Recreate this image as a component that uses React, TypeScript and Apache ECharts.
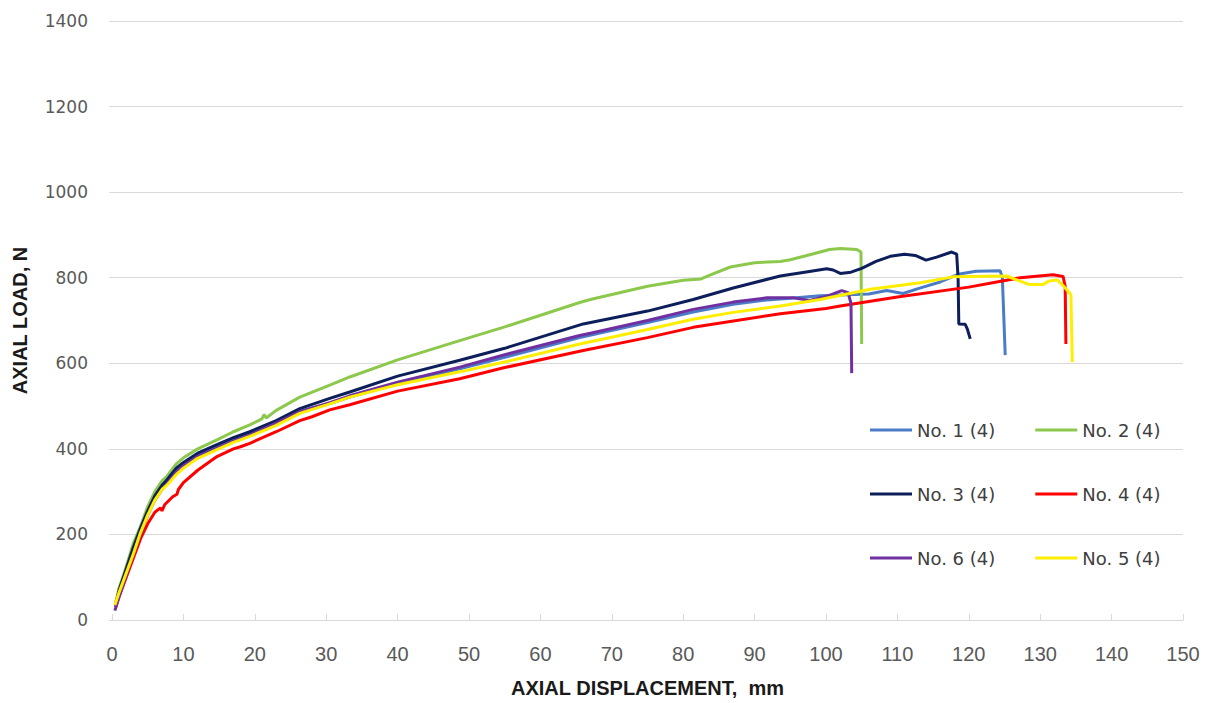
import React, { useEffect, useRef } from "react";
import * as echarts from "echarts";

type Pt = [number, number];

const xTicks = { min: 0, max: 150, interval: 10 };
const yTicks = { min: 0, max: 1400, interval: 200 };

const seriesNames = ["No. 1 (4)", "No. 2 (4)", "No. 3 (4)", "No. 4 (4)", "No. 6 (4)", "No. 5 (4)"];
const seriesColors = ["#4a7cc8", "#8cc84b", "#0c1f5a", "#ff0000", "#7030a0", "#ffee00"];

const no1: Pt[] = [
  [0.5, 30], [1, 65], [2, 115], [3, 165], [4, 210], [5, 250], [6, 285], [7, 310], [7.7, 322], [9, 350],
  [10, 363], [12, 385], [14.7, 405], [17, 421], [19.3, 435], [23, 462], [26.3, 488], [30.5, 506],
  [33.3, 521], [40, 552], [48.7, 587], [55, 614], [65.5, 660], [75, 695], [81.4, 720], [87, 738],
  [91.7, 748], [95, 752], [99.2, 758], [103, 760], [106, 762], [108.5, 770], [110.8, 763], [113, 775],
  [116, 790], [118.5, 808], [121, 815], [124.4, 816], [124.7, 800], [125.1, 619],
];
const no2: Pt[] = [
  [0.5, 40], [1, 75], [2, 125], [3, 180], [3.9, 215], [5, 265], [6, 300], [7, 325], [7.7, 336], [9, 365],
  [10, 379], [12, 400], [14.7, 421], [17, 440], [19.3, 456], [21, 470], [21.3, 480], [21.6, 472],
  [23, 490], [26.3, 521], [30.5, 549], [33.3, 568], [40, 608], [48.7, 653], [55, 685], [65.5, 742],
  [67, 749], [75, 780], [80, 794], [82.5, 797], [84, 808], [86.6, 825], [90, 835], [93.6, 838],
  [95, 842], [98, 855], [100.5, 866], [102, 868], [104.3, 866], [104.9, 860], [105.0, 645],
];
const no3: Pt[] = [
  [0.5, 35], [1, 70], [2, 120], [3, 170], [4, 215], [5, 255], [6, 290], [7, 315], [7.7, 328], [9, 355],
  [10, 368], [12, 390], [14.7, 410], [17, 426], [19.3, 440], [23, 466], [26.3, 494], [30.5, 518],
  [33.3, 533], [40, 570], [48.7, 607], [55, 635], [66, 692], [75, 722], [81.4, 749], [87, 776],
  [93.6, 804], [97, 813], [100.1, 821], [101, 818], [102, 810], [103.5, 813], [105, 822], [107, 838],
  [109, 850], [111, 855], [112.5, 852], [114, 841], [115.5, 848], [117.6, 860], [118.3, 855],
  [118.5, 800], [118.6, 692], [119.5, 691], [119.8, 680], [120.2, 657],
];
const no4: Pt[] = [
  [0.5, 30], [1, 55], [2, 100], [3, 145], [4, 190], [5, 225], [6, 252], [6.8, 262], [7.0, 255],
  [7.4, 270], [8.5, 288], [9.1, 294], [9.3, 305], [10, 321], [12, 350], [14.7, 382], [17, 400],
  [18, 405], [19.3, 413], [23, 440], [26.3, 466], [28, 475], [30.5, 491], [33.3, 503], [40, 535],
  [48.7, 564], [55, 590], [66, 630], [75, 660], [81.4, 684], [93.6, 716], [100, 728], [102, 734],
  [110, 755], [120, 778], [127.2, 800], [131.8, 807], [133.2, 803], [133.5, 780], [133.6, 645],
];
const no6: Pt[] = [
  [0.4, 22], [1, 55], [2, 105], [3, 155], [4, 200], [5, 245], [6, 280], [7, 305], [7.7, 318], [9, 345],
  [10, 360], [12, 382], [14.7, 402], [17, 418], [19.3, 432], [23, 460], [26.3, 487], [30.5, 508],
  [33.3, 524], [40, 556], [48.7, 591], [55, 620], [65.5, 665], [67, 670], [75, 700], [81.4, 726],
  [87, 743], [91.7, 753], [95.4, 753], [97.7, 747], [100, 756], [102.2, 770], [103.1, 765],
  [103.5, 740], [103.6, 577],
];
const no5: Pt[] = [
  [0.4, 35], [1, 65], [2, 110], [3, 155], [3.9, 200], [5, 245], [6, 280], [7, 305], [7.7, 315], [9, 340],
  [10, 355], [12, 378], [14.7, 398], [17, 415], [19.3, 429], [23, 455], [26.3, 483], [30.5, 505],
  [33.3, 521], [40, 550], [48.7, 580], [55, 603], [65.5, 645], [70, 661], [75, 679], [81.4, 703],
  [87, 719], [93.6, 734], [99.2, 749], [106.2, 773], [113.2, 788], [117.8, 802], [125.3, 804],
  [127.2, 792], [128.5, 784], [130.4, 784], [131.2, 792], [132.4, 795], [133.3, 780], [134.3, 760],
  [134.5, 603],
];

const seriesData: Pt[][] = [no1, no2, no3, no4, no6, no5];

export default function App() {
  const ref = useRef<HTMLDivElement>(null);
  useEffect(() => {
    if (!ref.current) return;
    const chart = echarts.init(ref.current, undefined, { renderer: "svg" });
    const legendRow = (names: string[], top: number) => ({
      show: true,
      left: 865,
      top,
      orient: "horizontal",
      itemGap: 40,
      itemWidth: 42,
      itemHeight: 3,
      icon: "rect",
      data: names,
      textStyle: { fontFamily: "DejaVu Sans", fontSize: 18, color: "#404040" },
    });
    chart.setOption({
      animation: false,
      backgroundColor: "#ffffff",
      grid: { left: 112, right: 27, top: 21, bottom: 78, containLabel: false },
      legend: [
        legendRow([seriesNames[0], seriesNames[1]], 416),
        legendRow([seriesNames[2], seriesNames[3]], 480),
        legendRow([seriesNames[4], seriesNames[5]], 544),
      ],
      xAxis: {
        type: "value",
        min: xTicks.min,
        max: xTicks.max,
        interval: xTicks.interval,
        name: "AXIAL DISPLACEMENT,  mm",
        nameLocation: "middle",
        nameGap: 58,
        nameTextStyle: { fontFamily: "Liberation Sans", fontWeight: "bold", fontSize: 20, color: "#1a1a1a" },
        axisLine: { show: true, lineStyle: { color: "#d9d9d9", width: 1 } },
        axisTick: { show: true, inside: true, length: 6, lineStyle: { color: "#d9d9d9" } },
        axisLabel: { fontFamily: "Liberation Sans", fontSize: 20, color: "#595959", margin: 24 },
        splitLine: { show: false },
      },
      yAxis: {
        type: "value",
        min: yTicks.min,
        max: yTicks.max,
        interval: yTicks.interval,
        name: "AXIAL LOAD, N",
        nameLocation: "middle",
        nameGap: 82,
        nameRotate: 90,
        nameTextStyle: { fontFamily: "Liberation Sans", fontWeight: "bold", fontSize: 20, color: "#1a1a1a" },
        axisLine: { show: false },
        axisTick: { show: true, length: 3, lineStyle: { color: "#d9d9d9" } },
        axisLabel: {
          fontFamily: "DejaVu Sans",
          fontSize: 17,
          color: "#595959",
          margin: 24,
          formatter: (v: number) => String(v),
        },
        splitLine: { show: true, lineStyle: { color: "#d9d9d9", width: 1 } },
      },
      series: seriesData.map((d, i) => ({
        name: seriesNames[i],
        type: "line",
        data: d,
        showSymbol: false,
        symbol: "none",
        smooth: false,
        color: seriesColors[i],
        lineStyle: { width: 3, color: seriesColors[i] },
        z: 2 + i,
      })),
    });
    return () => chart.dispose();
  }, []);
  return <div ref={ref} style={{ position: "absolute", left: 0, top: 0, width: 1210, height: 703 }} />;
}
